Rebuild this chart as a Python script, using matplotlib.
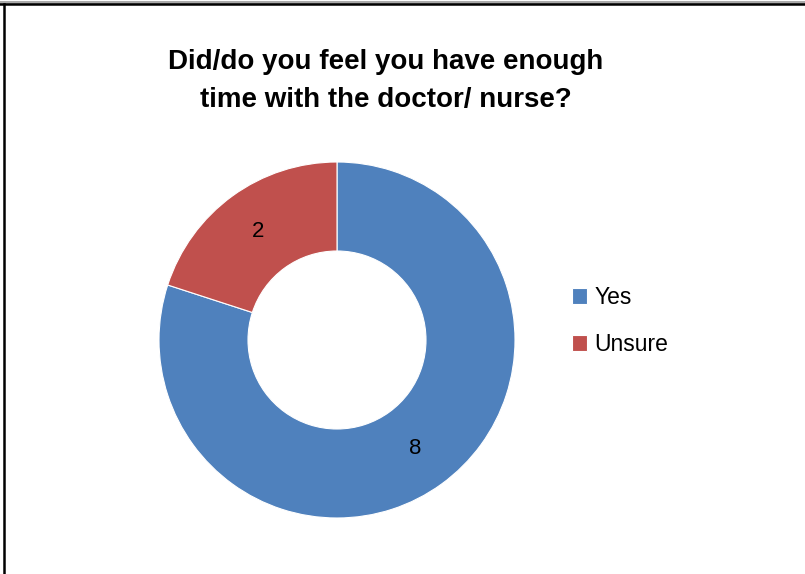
import matplotlib
matplotlib.use('Agg')
import matplotlib.pyplot as plt
from matplotlib.lines import Line2D

labels = ['Yes', 'Unsure']
values = [8, 2]
colors = ['#4F81BD', '#C0504D']
title = 'Did/do you feel you have enough\ntime with the doctor/ nurse?'

plt.rcParams['font.family'] = ['Liberation Sans', 'DejaVu Sans']

fig = plt.figure(figsize=(8.05, 5.74), dpi=100)

# frame lines of the chart area
fig.add_artist(Line2D([0, 1], [1 - 1.5/574, 1 - 1.5/574], color='#aaaaaa', lw=2.2, transform=fig.transFigure))
fig.add_artist(Line2D([0, 1], [1 - 4/574, 1 - 4/574], color='black', lw=1.8, transform=fig.transFigure))
fig.add_artist(Line2D([4/805, 4/805], [0, 1 - 4/574], color='black', lw=1.8, transform=fig.transFigure))

ax = fig.add_axes([159/805, 56/574, 356/805, 356/574])
total = sum(values)
wedges, texts, autotexts = ax.pie(
    values, colors=colors, startangle=90, counterclock=False, radius=1,
    wedgeprops=dict(width=0.5, edgecolor='white', linewidth=0.8),
    autopct=lambda p: '%d' % round(p * total / 100), pctdistance=0.75,
    textprops=dict(fontsize=16, color='black'))
ax.set_xlim(-1, 1)
ax.set_ylim(-1, 1)
ax.set_aspect('equal')

fig.text(386/805, 1 - 81/574, title, ha='center', va='center',
         fontsize=20, fontweight='bold', linespacing=1.62)

fig.legend(wedges, labels, loc='center left', bbox_to_anchor=(551/805, 1 - 321/574),
           frameon=False, fontsize=16.5, handlelength=0.65, handleheight=0.65,
           handletextpad=0.35, labelspacing=1.05)

fig.savefig('out.png', dpi=100)
